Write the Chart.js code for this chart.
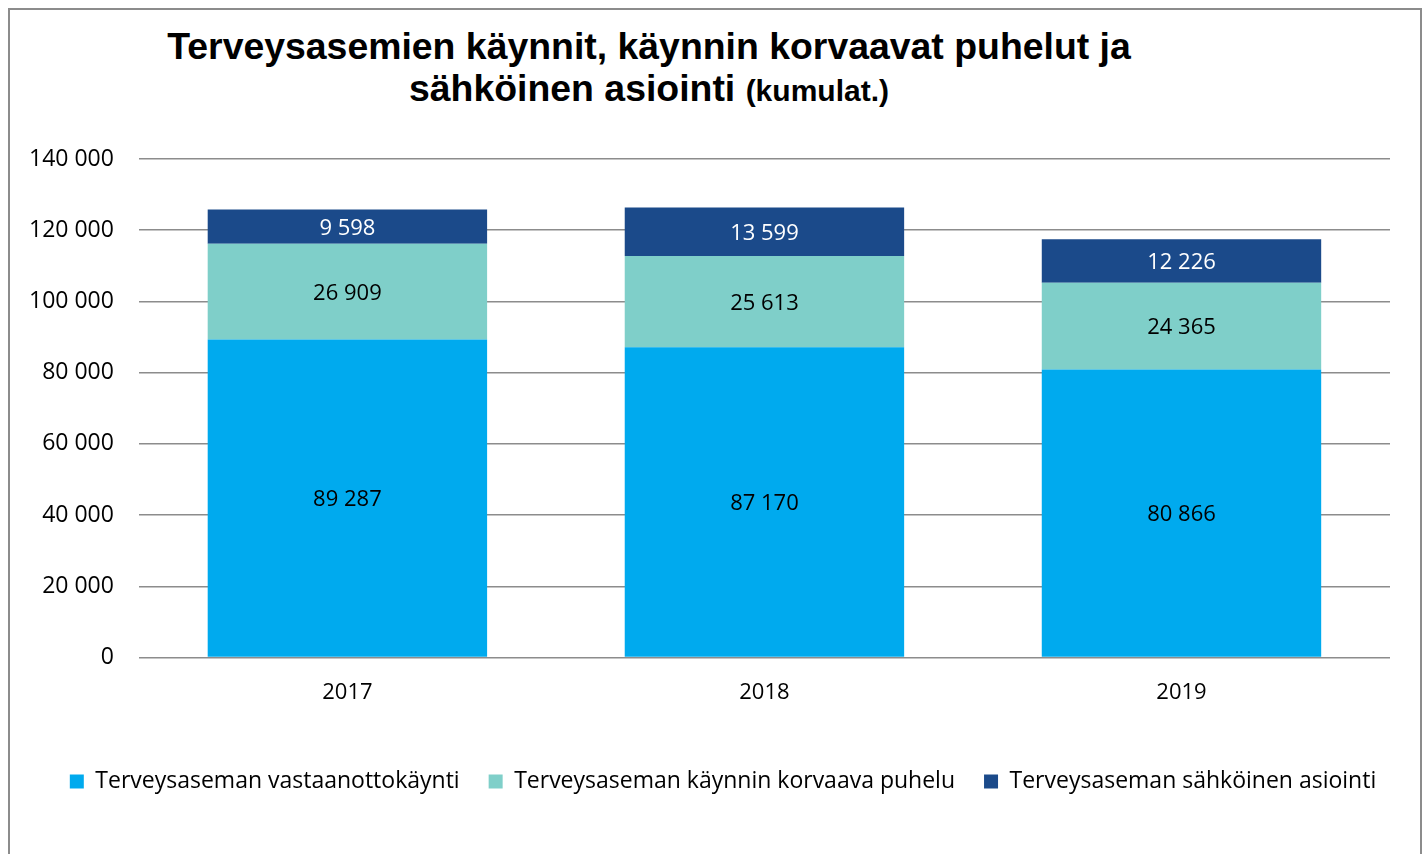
<!DOCTYPE html>
<html>
<head>
<meta charset="utf-8">
<script src="https://cdn.jsdelivr.net/npm/chart.js@4.4.1/dist/chart.umd.min.js"></script>
<style>
  html, body { margin: 0; padding: 0; background: #fff; }
  body { width: 1427px; height: 854px; position: relative; overflow: hidden; }
  .frame { position: absolute; left: 8px; top: 8px; width: 1410px; height: 900px; border: 2px solid #8c8c8c; }
  .title { position: absolute; left: 0; width: 1298px; top: 25px; text-align: center;
    font-family: "Liberation Sans", Arial, sans-serif; font-weight: bold; font-size: 37.4px; line-height: 42px; color: #000; }
  .title small { font-size: 30px; }
  #wrap { position: absolute; left: 0; top: 0; width: 1427px; height: 854px; }
</style>
</head>
<body>
<div class="frame"></div>
<div class="title">Terveysasemien käynnit, käynnin korvaavat puhelut ja<br>sähköinen asiointi <small>(kumulat.)</small></div>
<div id="wrap"><canvas id="chart"></canvas></div>
<script>
const years = ['2017', '2018', '2019'];
const vastaanotto = [89287, 87170, 80866];
const puhelu = [26909, 25613, 24365];
const sahkoinen = [9598, 13599, 12226];
const seriesNames = ['Terveysaseman vastaanottokäynti', 'Terveysaseman käynnin korvaava puhelu', 'Terveysaseman sähköinen asiointi'];
const seriesColors = ['#00AAEE', '#7FCFC9', '#1B4A8A'];
const labelColors = ['#000', '#000', '#fff'];

const fmt = v => String(v).replace(/\B(?=(\d{3})+(?!\d))/g, ' ');
const FONT = '"Open Sans", "Noto Sans", sans-serif';

// draws the value in the middle of each segment
const segmentLabels = {
  id: 'segmentLabels',
  afterDatasetsDraw(chart) {
    const ctx = chart.ctx;
    ctx.save();
    ctx.font = '22px ' + FONT;
    ctx.textAlign = 'center';
    ctx.textBaseline = 'middle';
    chart.data.datasets.forEach((ds, di) => {
      chart.getDatasetMeta(di).data.forEach((bar, i) => {
        ctx.fillStyle = labelColors[di];
        ctx.fillText(fmt(ds.data[i]), bar.x, (bar.y + bar.base) / 2 + 2);
      });
    });
    ctx.restore();
  }
};

// more room above the legend, and nudge it a bit to the right
const legendSpace = {
  id: 'legendSpace',
  beforeInit(chart) {
    const fit = chart.legend.fit;
    chart.legend.fit = function () {
      fit.call(this);
      this.height += 42;
    };
  },
  afterLayout(chart) {
    const lg = chart.legend;
    lg.left += 26;
    lg.right += 26;
    lg.top += 21;
    lg.bottom += 21;
  }
};

new Chart(document.getElementById('chart').getContext('2d'), {
  type: 'bar',
  data: {
    labels: years,
    datasets: [
      { label: seriesNames[0], data: vastaanotto, backgroundColor: seriesColors[0] },
      { label: seriesNames[1], data: puhelu, backgroundColor: seriesColors[1] },
      { label: seriesNames[2], data: sahkoinen, backgroundColor: seriesColors[2] }
    ]
  },
  options: {
    responsive: true, maintainAspectRatio: false, animation: false,
    categoryPercentage: 0.67, barPercentage: 1,
    layout: { padding: { top: 159, left: 4, right: 37, bottom: 30 } },
    plugins: {
      title: { display: false },
      tooltip: { enabled: false },
      legend: {
        position: 'bottom',
        labels: { boxWidth: 14, boxHeight: 14, padding: 29, color: '#000', font: { family: FONT, size: 23 } }
      }
    },
    scales: {
      x: {
        stacked: true,
        grid: { display: false },
        border: { display: false },
        ticks: { color: '#000', padding: 14, font: { family: FONT, size: 22 } }
      },
      y: {
        stacked: true, min: 0, max: 140000,
        border: { display: false },
        grid: { color: '#8c8c8c', lineWidth: 1.5, drawTicks: false },
        ticks: { stepSize: 20000, color: '#000', padding: 25, font: { family: FONT, size: 23 }, callback: v => fmt(v) }
      }
    }
  },
  plugins: [segmentLabels, legendSpace]
});
</script>
</body>
</html>
